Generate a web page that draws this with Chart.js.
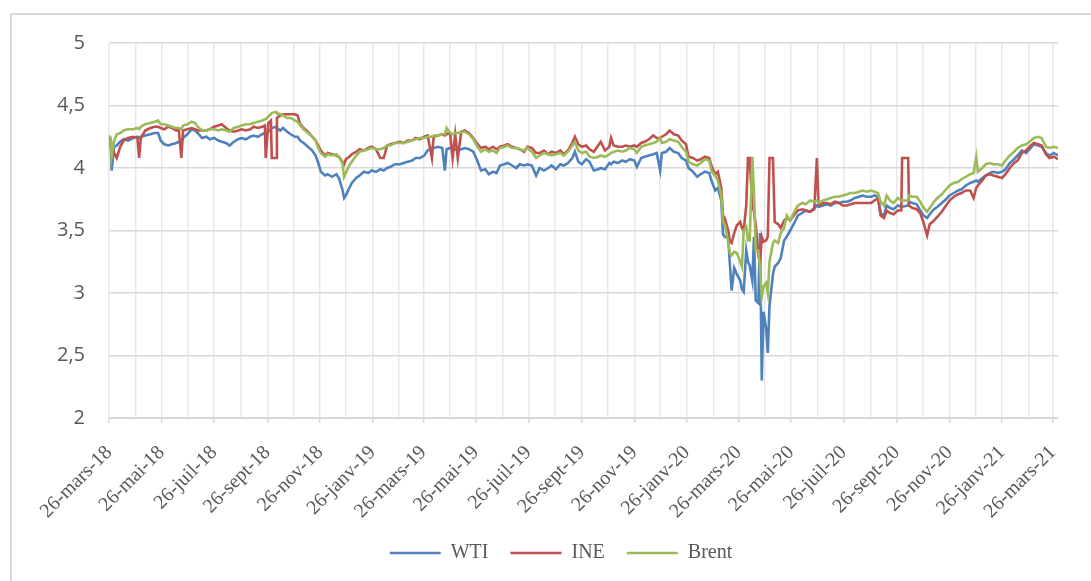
<!DOCTYPE html>
<html><head><meta charset="utf-8">
<script src="https://cdn.jsdelivr.net/npm/chart.js@4.4.0/dist/chart.umd.min.js"></script>
<style>
html,body{margin:0;padding:0;background:#fff;overflow:hidden;width:1091px;height:581px;}
#frame{position:absolute;left:10px;top:13px;width:1110px;height:600px;border:2px solid #d9d9d9;box-sizing:border-box;}
#c{position:absolute;left:0;top:0;}
</style></head><body>
<div id="frame"></div>
<canvas id="c" width="1091" height="573"></canvas>
<script>
// days since 26-mars-18
const days = [0,2,3,6,9,13,17,22,28,33,
35,37,42,48,53,57,60,64,69,73,
78,81,84,86,91,96,100,103,108,113,
117,122,127,131,136,140,145,150,154,159,
164,168,173,178,181,182,185,188,189,194,
195,199,202,207,211,216,219,222,226,231,
236,240,243,246,251,254,259,264,267,271,
273,275,279,282,287,291,296,301,305,310,
315,319,323,327,332,338,342,347,352,356,
361,366,370,375,377,382,387,390,392,396,
399,402,405,409,413,418,423,427,432,437,
441,446,450,454,459,463,468,473,477,482,
486,491,496,500,505,510,514,519,524,528,
533,538,541,545,549,554,558,563,568,571,
576,581,583,586,591,596,600,605,610,613,
618,622,627,632,636,640,642,647,651,656,
661,665,670,673,678,683,687,692,697,700,
704,707,711,713,715,719,721,723,726,729,
733,735,737,740,742,744,747,749,751,754,
756,758,760,763,765,767,771,773,777,780,
784,787,791,795,800,805,809,814,819,822,
824,829,834,838,843,848,852,857,861,866,
871,875,880,885,889,893,896,900,903,907,
911,916,920,921,928,929,933,938,942,946,
950,953,958,962,967,972,976,981,986,990,
995,1000,1004,1007,1009,1014,1018,1023,1027,1032,
1037,1041,1046,1051,1055,1060,1065,1069,1074,1079,
1083,1088,1092,1097,1102];

const wti = [4.20,4.18,3.98,4.17,4.18,4.21,4.23,4.22,4.24,4.25,
4.24,4.25,4.26,4.27,4.28,4.28,4.22,4.19,4.18,4.19,
4.20,4.21,4.20,4.24,4.27,4.31,4.30,4.28,4.24,4.25,
4.23,4.24,4.22,4.21,4.20,4.18,4.21,4.23,4.24,4.23,
4.25,4.26,4.25,4.27,4.28,4.28,4.29,4.31,4.32,4.33,
4.32,4.30,4.32,4.29,4.27,4.25,4.25,4.22,4.20,4.17,
4.14,4.10,4.04,3.97,3.94,3.95,3.93,3.95,3.92,3.83,
3.76,3.78,3.84,3.88,3.92,3.94,3.97,3.96,3.98,3.97,
3.99,3.98,4.00,4.01,4.03,4.03,4.04,4.05,4.06,4.08,
4.08,4.10,4.14,4.16,4.16,4.17,4.16,3.98,4.15,4.16,
4.15,4.15,4.14,4.15,4.16,4.15,4.13,4.07,3.98,3.99,
3.95,3.97,3.96,4.02,4.03,4.04,4.02,4.00,4.03,4.02,
4.03,4.02,3.94,4.00,3.98,4.00,4.02,3.99,4.03,4.02,
4.04,4.08,4.13,4.05,4.03,4.07,4.05,3.98,3.99,4.00,
3.99,4.04,4.03,4.05,4.04,4.06,4.05,4.07,4.06,4.01,
4.08,4.09,4.10,4.11,4.12,3.98,4.12,4.13,4.16,4.13,
4.12,4.08,4.06,4.00,3.97,3.93,3.95,3.97,3.96,3.89,
3.82,3.84,3.74,3.47,3.45,3.44,3.23,3.02,3.20,3.15,
3.10,3.03,3.01,3.34,3.25,3.22,3.10,3.45,2.94,2.92,
3.48,2.30,2.85,2.72,2.52,2.90,3.15,3.21,3.24,3.28,
3.42,3.45,3.50,3.55,3.62,3.64,3.66,3.65,3.68,3.70,
3.69,3.70,3.71,3.70,3.72,3.72,3.73,3.73,3.74,3.76,
3.77,3.78,3.77,3.77,3.78,3.77,3.64,3.62,3.70,3.68,
3.67,3.70,3.69,3.69,3.70,3.73,3.72,3.71,3.66,3.62,
3.60,3.63,3.67,3.69,3.72,3.75,3.78,3.80,3.82,3.83,
3.86,3.88,3.89,3.90,3.89,3.92,3.94,3.96,3.97,3.96,
3.97,3.99,4.04,4.07,4.10,4.14,4.12,4.15,4.19,4.18,
4.17,4.12,4.10,4.12,4.10];

const ine = [4.25,4.22,4.18,4.12,4.08,4.17,4.22,4.24,4.25,4.24,
4.08,4.24,4.30,4.32,4.33,4.33,4.32,4.31,4.33,4.32,
4.30,4.31,4.08,4.30,4.31,4.32,4.31,4.30,4.30,4.30,
4.31,4.33,4.34,4.35,4.32,4.30,4.29,4.30,4.31,4.30,
4.31,4.33,4.32,4.33,4.34,4.08,4.36,4.38,4.08,4.08,
4.40,4.42,4.43,4.43,4.43,4.43,4.42,4.35,4.32,4.29,
4.25,4.22,4.18,4.14,4.10,4.12,4.11,4.10,4.09,4.05,
4.03,4.07,4.09,4.11,4.13,4.15,4.14,4.16,4.17,4.15,
4.08,4.08,4.18,4.19,4.20,4.21,4.20,4.22,4.22,4.24,
4.23,4.25,4.26,4.08,4.25,4.26,4.27,4.26,4.27,4.28,
4.08,4.27,4.08,4.29,4.30,4.28,4.24,4.20,4.16,4.17,
4.15,4.17,4.15,4.17,4.18,4.19,4.17,4.16,4.15,4.13,
4.17,4.16,4.12,4.12,4.14,4.11,4.13,4.12,4.14,4.11,
4.14,4.20,4.25,4.19,4.17,4.18,4.15,4.13,4.18,4.21,
4.14,4.17,4.24,4.18,4.17,4.17,4.18,4.17,4.18,4.17,
4.20,4.21,4.23,4.26,4.24,4.24,4.25,4.27,4.30,4.27,
4.26,4.22,4.19,4.09,4.08,4.06,4.07,4.09,4.08,4.01,
3.95,3.97,3.84,3.62,3.60,3.50,3.41,3.40,3.48,3.54,
3.57,3.52,3.50,3.70,4.08,4.08,3.70,3.65,3.55,3.30,
3.25,3.45,3.41,3.42,3.45,4.08,4.08,3.57,3.55,3.52,
3.58,3.60,3.58,3.62,3.66,3.67,3.66,3.65,3.67,4.08,
3.70,3.72,3.72,3.71,3.73,3.72,3.70,3.70,3.71,3.72,
3.72,3.72,3.72,3.72,3.74,3.76,3.62,3.60,3.66,3.64,
3.63,3.66,3.66,4.08,4.08,3.70,3.68,3.67,3.64,3.56,
3.46,3.55,3.58,3.61,3.65,3.70,3.74,3.77,3.79,3.80,
3.82,3.82,3.76,3.84,3.86,3.90,3.94,3.95,3.94,3.93,
3.92,3.95,4.00,4.04,4.06,4.12,4.14,4.17,4.20,4.19,
4.18,4.11,4.08,4.09,4.07];

const brent = [4.26,4.24,4.09,4.22,4.27,4.28,4.30,4.31,4.31,4.32,
4.31,4.33,4.35,4.36,4.37,4.38,4.35,4.35,4.34,4.33,
4.32,4.32,4.31,4.34,4.35,4.37,4.36,4.33,4.30,4.30,
4.31,4.31,4.30,4.31,4.30,4.29,4.32,4.33,4.34,4.35,
4.35,4.36,4.37,4.38,4.39,4.39,4.41,4.43,4.44,4.45,
4.44,4.43,4.42,4.40,4.40,4.38,4.37,4.34,4.31,4.28,
4.25,4.22,4.16,4.12,4.09,4.11,4.10,4.11,4.09,4.04,
3.93,3.96,4.02,4.05,4.10,4.13,4.14,4.15,4.16,4.15,
4.15,4.16,4.18,4.18,4.20,4.20,4.20,4.21,4.22,4.23,
4.24,4.24,4.25,4.25,4.26,4.26,4.27,4.27,4.32,4.28,
4.27,4.28,4.28,4.29,4.29,4.27,4.23,4.18,4.13,4.15,
4.13,4.14,4.12,4.16,4.17,4.18,4.16,4.16,4.15,4.14,
4.16,4.13,4.08,4.10,4.12,4.11,4.10,4.11,4.12,4.10,
4.13,4.18,4.21,4.14,4.12,4.13,4.09,4.08,4.09,4.10,
4.09,4.11,4.12,4.13,4.14,4.13,4.14,4.16,4.15,4.12,
4.17,4.18,4.19,4.20,4.21,4.24,4.20,4.21,4.23,4.22,
4.21,4.17,4.13,4.05,4.03,4.02,4.04,4.07,4.06,3.97,
3.94,3.90,3.78,3.57,3.55,3.41,3.32,3.30,3.33,3.32,
3.25,3.21,3.50,3.53,3.42,3.42,4.09,3.80,3.34,3.34,
3.20,2.97,3.05,3.08,3.00,3.25,3.40,3.42,3.40,3.48,
3.52,3.62,3.58,3.64,3.70,3.72,3.71,3.74,3.73,3.74,
3.72,3.74,3.75,3.76,3.77,3.77,3.78,3.79,3.80,3.80,
3.81,3.82,3.81,3.82,3.81,3.80,3.73,3.70,3.78,3.74,
3.72,3.76,3.74,3.74,3.74,3.78,3.77,3.77,3.73,3.68,
3.65,3.68,3.73,3.76,3.79,3.83,3.86,3.88,3.89,3.91,
3.93,3.95,3.96,4.09,3.97,4.00,4.03,4.04,4.03,4.03,
4.02,4.06,4.10,4.13,4.16,4.18,4.19,4.21,4.24,4.25,
4.24,4.17,4.16,4.17,4.16];

// monthly grid positions (26th of each month, days since 26-mars-18)
const gridDays = [0,31,61,92,122,153,184,214,245,275,306,337,365,396,426,457,487,518,549,579,610,640,671,702,731,762,792,823,853,884,915,945,976,1006,1037,1068,1096];
const xTickLabels = ['26-mars-18','26-mai-18','26-juil-18','26-sept-18','26-nov-18','26-janv-19','26-mars-19','26-mai-19','26-juil-19','26-sept-19','26-nov-19','26-janv-20','26-mars-20','26-mai-20','26-juil-20','26-sept-20','26-nov-20','26-janv-21','26-mars-21'];
const seriesNames = ['WTI','INE','Brent'];
const seriesColors = ['#4f81bd','#c0504d','#9bbb59'];

const seriesValues = [wti, ine, brent];
const datasets = seriesNames.map((name, k) => ({
  label: name,
  data: days.map((d, i) => ({x: d, y: seriesValues[k][i]})),
  borderColor: seriesColors[k],
  backgroundColor: seriesColors[k],
  borderWidth: 2.6,
  pointRadius: 0,
  pointHoverRadius: 0,
  tension: 0,
  fill: false,
  order: 3 - k
}));

// legend of the original is centred on the full (wider) chart frame
const legendShift = {
  id: 'legendShift',
  afterLayout(chart) {
    const lg = chart.legend;
    if (!lg) return;
    const dx = 561 - (lg.left + lg.right) / 2;
    lg.left += dx; lg.right += dx;
  }
};

new Chart(document.getElementById('c'), {
  type: 'line',
  data: { datasets },
  plugins: [legendShift],
  options: {
    responsive: false,
    animation: false,
    layout: { padding: { left: 40, right: 33, top: 43, bottom: 0 } },
    plugins: {
      tooltip: { enabled: false },
      legend: {
        position: 'bottom',
        labels: {
          usePointStyle: true,
          pointStyle: 'line',
          pointStyleWidth: 51,
          padding: 22,
          color: '#595959',
          font: { family: '"Liberation Serif", "Times New Roman", serif', size: 20 },
          sort: (a, b) => a.datasetIndex - b.datasetIndex
        }
      }
    },
    scales: {
      x: {
        type: 'linear',
        min: 0,
        max: 1102,
        afterBuildTicks: s => { s.ticks = gridDays.map(v => ({ value: v })); },
        afterFit: s => { s.height = 103; },
        grid: {
          color: '#e8e8e8',
          lineWidth: 1.5,
          drawTicks: true,
          tickLength: 5,
          tickColor: c => (c.index % 2 === 0 ? '#d9d9d9' : 'rgba(0,0,0,0)')
        },
        border: { color: '#d9d9d9', width: 2 },
        ticks: {
          autoSkip: false,
          maxRotation: 45,
          minRotation: 45,
          padding: 18,
          color: '#595959',
          font: { family: '"Liberation Serif", "Times New Roman", serif', size: 20 },
          callback: (v, i) => (i % 2 === 0 ? xTickLabels[i / 2] : '')
        }
      },
      y: {
        min: 2,
        max: 5,
        afterFit: s => { s.width = 69; },
        grid: { color: '#d9d9d9', lineWidth: 1.5, drawTicks: false },
        border: { display: false },
        ticks: {
          stepSize: 0.5,
          padding: 24,
          color: '#595959',
          font: { family: '"Open Sans", sans-serif', size: 20 },
          callback: v => String(v).replace('.', ',')
        }
      }
    }
  }
});
</script>
</body></html>
